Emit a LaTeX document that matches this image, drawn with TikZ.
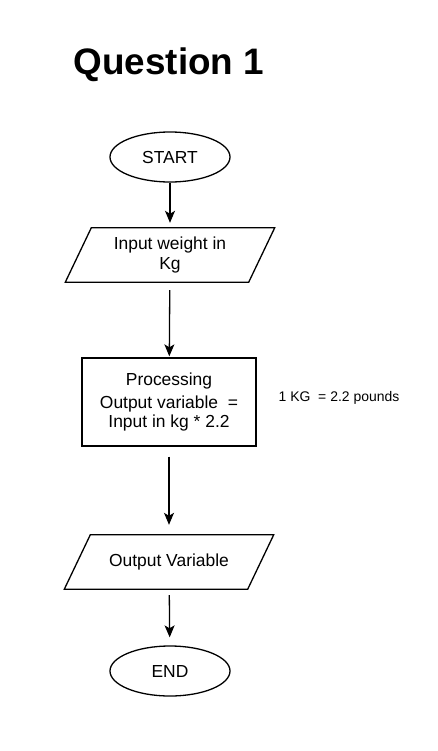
\documentclass[tikz,border=0pt]{standalone}
\usepackage{fontspec}
\setmainfont{Liberation Sans}
\usetikzlibrary{shapes.geometric,arrows.meta,positioning}

\tikzset{
  terminal/.style={draw, ellipse, line width=1.3bp, minimum width=120bp, minimum height=50bp, inner sep=0pt, font=\fontsize{17.5}{20}\selectfont},
  iobox/.style={rectangle, minimum width=183bp, minimum height=54bp, inner sep=0pt, align=center, font=\fontsize{17.5}{20}\selectfont,
    append after command={\pgfextra{\let\ionode=\tikzlastnode
      \draw[line width=1.3bp] ([xshift=-13bp]\ionode.south west) -- ([xshift=13bp]\ionode.north west)
      -- ([xshift=13bp]\ionode.north east) -- ([xshift=-13bp]\ionode.south east) -- cycle;}}},
  procbox/.style={draw, rectangle, line width=1.3bp, minimum width=174bp, minimum height=88bp, inner sep=0pt, align=center, font=\fontsize{17.5}{20}\selectfont},
  flow/.style={->, line width=1.3bp}
}

\begin{document}
\begin{tikzpicture}[x=1bp, y=-1bp, >={Stealth[length=12bp,width=10bp,inset=3bp]}]
		\useasboundingbox (0,0) rectangle (438,751);
		\node[anchor=base, font=\fontsize{37}{44}\selectfont\bfseries] (title) at (169,75) {Question 1};
		\node[terminal] (start) at (170,157) {START};
		\node[iobox] (input) at (170,255) {Input weight in\\Kg};
		\node[procbox] (proc) at (169,402) {Processing\\[3bp]Output variable\ \ =\\Input in kg * 2.2};
		\node[font=\fontsize{14}{17}\selectfont] (note) at (339,398) {1 KG\ \ = 2.2 pounds};
		\node[iobox] (output) at (169,562) {Output Variable};
		\node[terminal] (end) at (170,671) {END};
		\draw[flow, shorten >=5bp] (start) -- (input);
		\draw[flow, shorten <=8bp, shorten >=1bp] (input) -- (proc);
		\draw[flow, shorten <=10bp, shorten >=10bp] (proc) -- (output);
		\draw[flow, shorten <=6bp, shorten >=8bp] (output) -- (end);
	\end{tikzpicture}
\end{document}
